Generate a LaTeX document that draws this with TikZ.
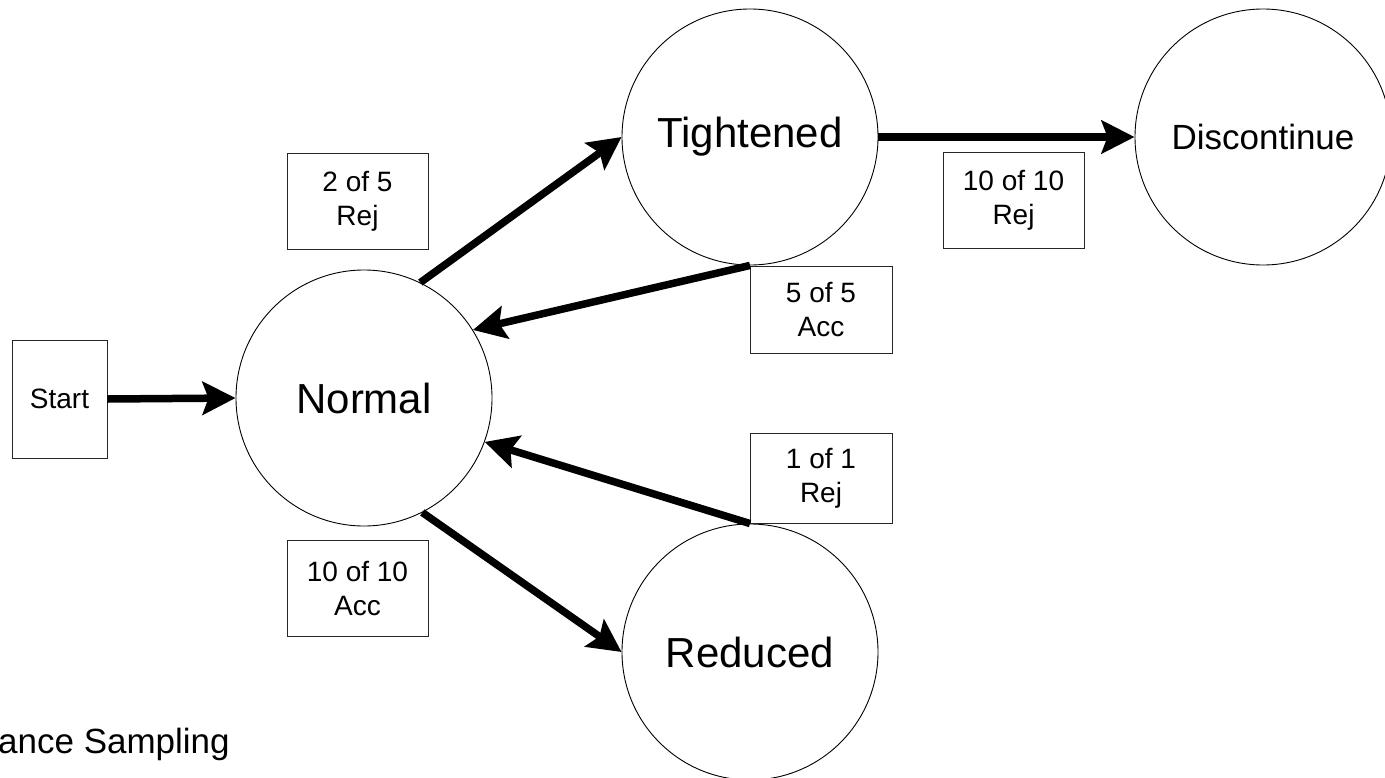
\documentclass[tikz,border=0pt]{standalone}
\usepackage{fontspec}
\setmainfont{Liberation Sans}
\usetikzlibrary{arrows.meta}
\begin{document}
\begin{tikzpicture}[x=1pt,y=-1pt,
  state/.style={circle,draw=black,line width=0.9pt,minimum size=256pt,inner sep=0pt,font=\fontsize{42}{50}\selectfont},
  smallstate/.style={state,font=\fontsize{35}{42}\selectfont},
  lbl/.style={rectangle,draw=black!85,line width=0.9pt,inner sep=0pt,align=center,font=\fontsize{28}{34}\selectfont},
  arr/.style={line width=7.5pt,-{Stealth[length=33pt,width=33pt,inset=6pt]}}
]
\useasboundingbox (0,0) rectangle (1385,777);
\clip (0,0) rectangle (1385,777);

\node[state] (N) at (364,398) {Normal};
\node[state] (T) at (750,137) {Tightened};
\node[smallstate] (D) at (1263,137) {Discontinue};
\node[state] (R) at (750,652) {Reduced};

\node[lbl,minimum width=95pt,minimum height=118pt] (S) at (59.5,399) {Start};

\node[lbl,minimum width=141pt,minimum height=96pt] (L1) at (357.5,201) {2 of 5\\Rej};
\node[lbl,minimum width=141pt,minimum height=96pt] (L2) at (1013.5,200) {10 of 10\\Rej};
\node[lbl,minimum width=142pt,minimum height=87pt] (L3) at (821,309.5) {5 of 5\\Acc};
\node[lbl,minimum width=142pt,minimum height=90pt] (L4) at (821,478) {1 of 1\\Rej};
\node[lbl,minimum width=141pt,minimum height=96pt] (L5) at (357.5,588) {10 of 10\\Acc};

\node[anchor=base west,inner sep=0pt,font=\fontsize{35}{42}\selectfont] (title) at (-2,753) {ance Sampling};

\draw[arr] (S.east) -- (N.west);
\draw[arr] (N.64) -- (T.west);
\draw[arr] (T.east) -- (D.west);
\draw[arr] (T.south) -- (N.32);
\draw[arr] (R.north) -- (N.-20);
\draw[arr] (N.-63) -- (R.west);
\end{tikzpicture}
\end{document}
